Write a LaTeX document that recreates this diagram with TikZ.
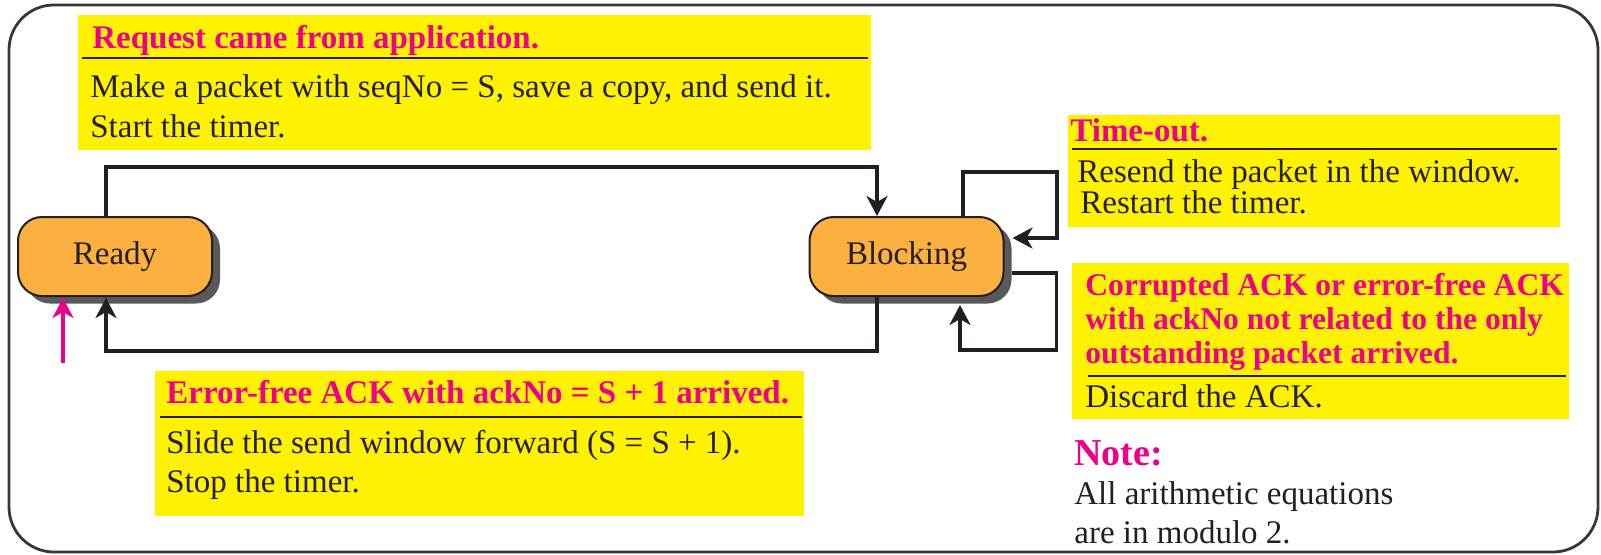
\documentclass[tikz,border=0pt]{standalone}
\usepackage{fontspec}
\setmainfont{Liberation Serif}
\usetikzlibrary{arrows.meta,calc,shadows}
\definecolor{hl}{RGB}{255,242,0}
\definecolor{mag}{RGB}{236,0,140}
\definecolor{stateor}{RGB}{251,176,64}
\definecolor{shade}{RGB}{88,89,91}
\definecolor{ink}{RGB}{35,31,32}
\definecolor{framec}{RGB}{55,55,55}

\begin{document}
\begin{tikzpicture}[x=0.5pt,y=-0.5pt,
  txt/.style={font=\fontsize{16.5}{19.5}\selectfont},
  state/.style={txt, draw=ink, line width=1pt, fill=stateor, rounded corners=12pt,
    minimum width=97pt, minimum height=39.5pt, inner sep=0pt, text=ink,
    drop shadow={shadow xshift=4pt, shadow yshift=-3.75pt, opacity=1, fill=shade}},
  ybox/.style={fill=hl, draw=none, inner sep=0pt, anchor=north west},
  head/.style={anchor=base west, inner sep=0pt, text=mag, font=\bfseries\fontsize{16.5}{19.5}\selectfont},
  body/.style={txt, anchor=base west, inner sep=0pt, text=ink},
  rule/.style={draw=ink, line width=1pt},
  arr/.style={draw=ink, line width=1.7pt, -{Stealth[length=10pt,width=10.5pt,inset=3pt]}},
  pinkarr/.style={draw=mag, line width=1.7pt, -{Stealth[length=10pt,width=10.5pt,inset=3pt]}},
]
\useasboundingbox (0,0) rectangle (1601,554);

% outer frame
\draw[framec, line width=1.4pt, rounded corners=22.5pt] (9,5) rectangle (1598,552);

% yellow action boxes
\node[ybox, minimum width=396.5pt, minimum height=67.5pt] (reqbox) at (78,15) {};
\node[ybox, minimum width=324.5pt, minimum height=72.5pt] (ackbox) at (155,371) {};
\node[ybox, minimum width=246pt, minimum height=56pt] (tobox) at (1068,115) {};
\node[ybox, minimum width=248.5pt, minimum height=78pt] (badbox) at (1072,263) {};

% request from application
\node[head] (reqT) at (92,48) {Request came from application.};
\draw[rule] (82,58) -- (868,58);
\node[body] (reqA) at (90,97) {Make a packet with seqNo = S, save a copy, and send it.};
\node[body] (reqB) at (90,137) {Start the timer.};

% error-free ACK
\node[head] (ackT) at (166,403) {Error-free ACK with ackNo = S + 1 arrived.};
\draw[rule] (160,417) -- (802,417);
\node[body] (ackA) at (166,453) {Slide the send window forward (S = S + 1).};
\node[body] (ackB) at (166,492) {Stop the timer.};

% time-out
\node[head] (toT) at (1070,141) {Time-out.};
\draw[rule] (1072,149) -- (1557,149);
\node[body] (toA) at (1077,182) {Resend the packet in the window.};
\node[body] (toB) at (1080,213) {Restart the timer.};

% corrupted or unrelated ACK
\tikzset{badhead/.style={head, font=\bfseries\fontsize{15.8}{19}\selectfont}}
\node[badhead] (badT1) at (1085,295) {Corrupted ACK or error-free ACK};
\node[badhead] (badT2) at (1085,329) {with ackNo not related to the only};
\node[badhead] (badT3) at (1085,363) {outstanding packet arrived.};
\draw[rule] (1088,376) -- (1566,376);
\node[body] (badA) at (1085,407) {Discard the ACK.};

% note
\node[head, font=\bfseries\fontsize{19}{22}\selectfont] (noteT) at (1074,465) {Note:};
\node[body] (noteA) at (1074,504) {All arithmetic equations};
\node[body] (noteB) at (1074,543) {are in modulo 2.};

% states
\node[state] (ready) at (115,256.5) {Ready};
\node[state] (blocking) at (906.5,256.5) {Blocking};

% transitions
\draw[arr] ($(ready.north)+(-9,0)$) -- ++(0,-49) -| ($(blocking.north)+(-29.5,0)$);
\draw[arr] ($(blocking.south)+(-29.5,0)$) -- ++(0,54) -| ($(ready.south)+(-9,1)$);
\draw[arr] ($(blocking.north)+(56.5,0)$) -- ++(0,-44) -- ++(94,0) |- ($(blocking.east)+(8,-18.5)$);
\draw[arr] ($(blocking.east)+(7,16.5)$) -- ++(45,0) -- ++(0,77) -| ($(blocking.south)+(53.5,8)$);

% initial transition
\coordinate (init) at (63,363);
\draw[pinkarr] (init) -- ($(ready.south)+(-52,1)$);
\end{tikzpicture}
\end{document}
